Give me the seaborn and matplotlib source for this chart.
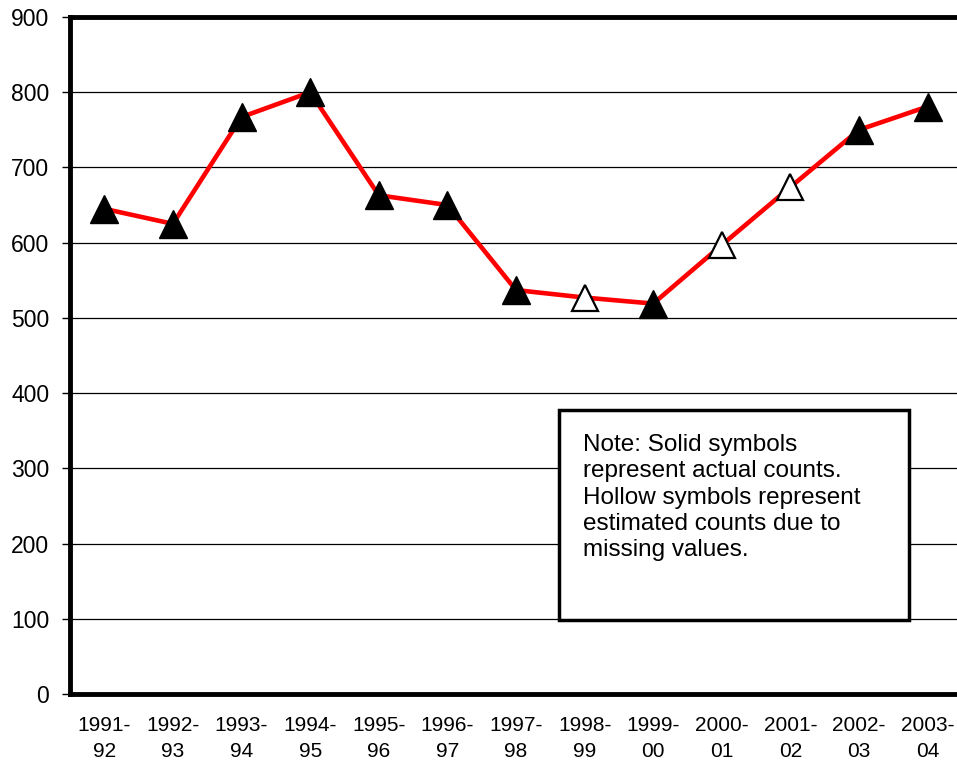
import matplotlib
matplotlib.use("Agg")
import matplotlib.pyplot as plt
import seaborn as sns
import pandas as pd
from matplotlib.patches import Rectangle

years = ["1991-\n92", "1992-\n93", "1993-\n94", "1994-\n95", "1995-\n96", "1996-\n97",
         "1997-\n98", "1998-\n99", "1999-\n00", "2000-\n01", "2001-\n02", "2002-\n03", "2003-\n04"]
counts = [645, 625, 767, 800, 663, 650, 537, 527, 519, 597, 674, 750, 781]
estimated = [False, False, False, False, False, False, False, True, False, True, True, False, False]
yticks = [0, 100, 200, 300, 400, 500, 600, 700, 800, 900]
note = ("Note: Solid symbols\nrepresent actual counts.\nHollow symbols represent\n"
        "estimated counts due to\nmissing values.")

sns.set_theme(style="white")
plt.rcParams['font.family'] = ['Liberation Sans', 'DejaVu Sans']
plt.rcParams['text.color'] = 'black'
plt.rcParams['xtick.color'] = 'black'
plt.rcParams['ytick.color'] = 'black'
plt.rcParams['xtick.labelcolor'] = 'black'
plt.rcParams['ytick.labelcolor'] = 'black'

df = pd.DataFrame({"pos": range(len(years)), "count": counts, "est": estimated})

fig = plt.figure(figsize=(9.57, 7.63), dpi=100)
ax = fig.add_axes([70/957, 69/763, 892/957, 677/763])

sns.lineplot(data=df, x="pos", y="count", color="#ff0000", linewidth=3.3, ax=ax, zorder=3)
solid = df[~df["est"]]
hollow = df[df["est"]]
ax.plot(solid["pos"], solid["count"], linestyle="none", marker="^", markersize=20.5,
        markerfacecolor="black", markeredgecolor="black", zorder=4)
ax.plot(hollow["pos"], hollow["count"], linestyle="none", marker="^", markersize=19,
        markerfacecolor="white", markeredgecolor="black", markeredgewidth=1.6, zorder=4)

ax.set_xlim(-0.5, len(years) - 0.5)
ax.set_ylim(0, 900)
ax.set_yticks(yticks)
ax.set_yticklabels([str(v) for v in yticks], fontsize=16.5, color="black")
ax.set_xticks(range(len(years)))
ax.set_xticklabels(years, fontsize=15, linespacing=1.45, color="black")
ax.set_xticks([i - 0.5 for i in range(len(years) + 1)], minor=True)
ax.tick_params(axis="x", which="major", length=0, pad=16)
ax.tick_params(axis="x", which="minor", length=6, width=1, color="black", direction="out")
ax.tick_params(axis="y", which="major", length=6, width=1, color="black", direction="out", pad=9, left=True)
ax.set_xlabel("")
ax.set_ylabel("")

for v in yticks[1:-1]:
    ax.axhline(v, color="black", linewidth=0.9, zorder=1)

for s in ["left", "bottom", "top"]:
    ax.spines[s].set_visible(True)
    ax.spines[s].set_color("black")
    ax.spines[s].set_linewidth(3.5)
ax.spines["right"].set_visible(False)

ax.add_patch(Rectangle((0.548, 0.109), 0.393, 0.3105, transform=ax.transAxes,
                       facecolor="white", edgecolor="black", linewidth=2.5, zorder=5))
ax.text(0.575, 0.384, note, transform=ax.transAxes, fontsize=17.5, va="top", ha="left",
        linespacing=1.25, zorder=6, color="black")

fig.savefig("out.png", dpi=100)
